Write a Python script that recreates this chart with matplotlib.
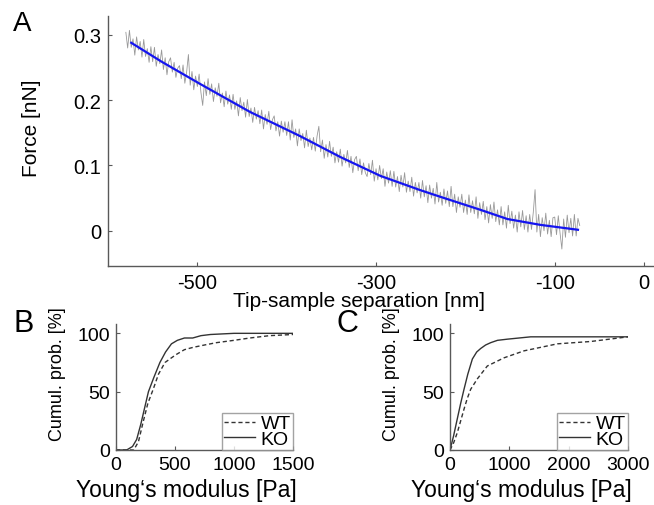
import numpy as np
import matplotlib
matplotlib.use("Agg")
import matplotlib.pyplot as plt

plt.rcParams['font.family'] = ['Liberation Sans', 'DejaVu Sans']
plt.rcParams['axes.unicode_minus'] = False

# ---- panel A: force curve (raw trace, every 2 nm) ----
raw_start, raw_end = -580, -72
raw_force = [
    0.304, 0.280, 0.307, 0.281, 0.294, 0.269, 0.297, 0.277, 0.290, 0.266, 0.293, 0.267, 0.279, 0.258, 0.282,
    0.259, 0.281, 0.252, 0.270, 0.256, 0.277, 0.247, 0.265, 0.239, 0.259, 0.265, 0.243, 0.258, 0.235, 0.249,
    0.253, 0.233, 0.254, 0.226, 0.243, 0.270, 0.223, 0.244, 0.216, 0.237, 0.221, 0.240, 0.212, 0.192, 0.228,
    0.207, 0.233, 0.209, 0.225, 0.198, 0.219, 0.206, 0.226, 0.196, 0.211, 0.190, 0.214, 0.194, 0.208, 0.186,
    0.209, 0.186, 0.199, 0.176, 0.204, 0.184, 0.197, 0.174, 0.201, 0.175, 0.188, 0.166, 0.189, 0.171, 0.184,
    0.164, 0.185, 0.156, 0.178, 0.163, 0.183, 0.155, 0.170, 0.176, 0.153, 0.167, 0.145, 0.168, 0.151, 0.167,
    0.146, 0.167, 0.139, 0.170, 0.143, 0.156, 0.130, 0.156, 0.138, 0.149, 0.127, 0.154, 0.129, 0.142, 0.124,
    0.143, 0.122, 0.145, 0.160, 0.121, 0.139, 0.111, 0.132, 0.113, 0.137, 0.114, 0.128, 0.104, 0.121, 0.105,
    0.125, 0.099, 0.117, 0.104, 0.123, 0.097, 0.114, 0.089, 0.109, 0.114, 0.092, 0.110, 0.086, 0.104, 0.089,
    0.083, 0.103, 0.086, 0.108, 0.076, 0.095, 0.078, 0.100, 0.080, 0.095, 0.068, 0.090, 0.073, 0.092, 0.068,
    0.091, 0.067, 0.083, 0.060, 0.085, 0.067, 0.089, 0.059, 0.076, 0.060, 0.082, 0.053, 0.074, 0.058, 0.074,
    0.050, 0.077, 0.052, 0.069, 0.043, 0.070, 0.050, 0.065, 0.041, 0.074, 0.044, 0.059, 0.039, 0.064, 0.042,
    0.061, 0.037, 0.068, 0.037, 0.056, 0.028, 0.052, 0.036, 0.056, 0.028, 0.047, 0.025, 0.055, 0.028, 0.046,
    0.026, 0.052, 0.019, 0.043, 0.025, 0.045, 0.017, 0.037, 0.012, 0.040, 0.019, 0.044, 0.014, 0.032, 0.009,
    0.037, 0.009, 0.029, 0.004, 0.039, 0.011, 0.030, 0.004, 0.024, -0.002, 0.029, 0.006, 0.031, 0.002, 0.023,
    -0.002, 0.025, 0.002, 0.028, 0.063, -0.002, 0.025, -0.009, 0.020, 0.000, 0.027, -0.005, 0.016, -0.009, 0.020,
    0.021, -0.006, 0.023, -0.004, -0.028, 0.018, -0.010, 0.024, -0.003, 0.019, -0.008, 0.025, -0.008, 0.019, 0.008,
]
fit_sep = [-574, -540, -497, -441, -385, -340, -295, -250, -228, -183, -153, -116, -74]
fit_force = [0.288, 0.259, 0.225, 0.182, 0.145, 0.113, 0.084, 0.062, 0.052, 0.032, 0.018, 0.009, 0.0015]

# ---- panel B / C: cumulative distributions ----
b_ko_x = [0, 90, 140, 175, 210, 240, 275, 320, 372, 420, 470, 520, 580, 650, 720, 800, 1000, 1500]
b_ko_y = [0, 0, 3, 9, 22, 35, 50, 62, 75, 84, 91, 94, 96, 96, 98, 99, 100, 100]
b_wt_x = [0, 150, 190, 230, 270, 315, 360, 415, 470, 513, 580, 654, 750, 851, 1000, 1134, 1300, 1500]
b_wt_y = [0, 0, 7, 24, 40, 52, 65, 75, 79, 82, 86, 88, 90, 92, 94, 96, 98, 99]

c_ko_x = [0, 60, 124, 180, 236, 300, 377, 450, 517, 600, 686, 800, 967, 1360, 2000, 3000]
c_ko_y = [0, 12, 27, 40, 52, 65, 78, 84, 87, 90, 92, 94, 95, 97, 97, 97]
c_wt_x = [0, 60, 124, 180, 236, 290, 348, 461, 629, 910, 1248, 1810, 2371, 3000]
c_wt_y = [0, 6, 15, 25, 35, 44, 52, 61, 72, 79, 85, 91, 93, 97]

spine_col = '0.35'
line_col = '0.2'


def style_axes(ax, fs, pad):
    for s in ['top', 'right']:
        ax.spines[s].set_visible(False)
    for s in ['left', 'bottom']:
        ax.spines[s].set_color(spine_col)
        ax.spines[s].set_linewidth(1.0)
    ax.tick_params(direction='in', length=3, width=0.8, color=spine_col,
                   labelsize=fs, pad=pad)


fig = plt.figure(figsize=(6.54, 5.06), dpi=100)

# panel A
axA = fig.add_axes([108 / 654, 1 - 267 / 506, 545 / 654, 250 / 506])
raw_sep = np.linspace(raw_start, raw_end, len(raw_force))
axA.plot(raw_sep, raw_force, color='0.6', lw=0.6)
axA.plot(fit_sep, fit_force, color='#1414f0', lw=1.6)
axA.set_xlim(-600, 10)
axA.set_ylim(-0.054, 0.329)
axA.set_xticks([-500, -300, -100, 0])
axA.set_yticks([0, 0.1, 0.2, 0.3])
axA.set_yticklabels(['0', '0.1', '0.2', '0.3'])
style_axes(axA, 14.5, 5)
axA.set_xlabel('Tip-sample separation [nm]', fontsize=15)
axA.xaxis.set_label_coords(0.46, -0.102)
axA.set_ylabel('Force [nN]', fontsize=15)
axA.yaxis.set_label_coords(-0.123, 0.556)
fig.text(13 / 654, 1 - 24 / 506, 'A', fontsize=20, va='center')


def cdf_panel(rect, ko_x, ko_y, wt_x, wt_y, xmax, xticks, letter, lx):
    ax = fig.add_axes(rect)
    ax.plot(wt_x, wt_y, color=line_col, lw=1.0, ls=(0, (3, 2)), label='WT')
    ax.plot(ko_x, ko_y, color=line_col, lw=1.0, label='KO')
    ax.set_xlim(0, xmax)
    ax.set_ylim(0, 108)
    ax.set_xticks(xticks)
    ax.set_yticks([0, 50, 100])
    style_axes(ax, 14, 4)
    ax.set_xlabel("Young\u2018s modulus [Pa]", fontsize=16.5)
    ax.xaxis.set_label_coords(0.40, -0.22)
    ax.set_ylabel('Cumul. prob. [%]', fontsize=13)
    ax.yaxis.set_label_coords(-0.28, 0.61)
    leg = ax.legend(loc='lower right', bbox_to_anchor=(1.0, 0.0), fontsize=14,
                    frameon=True, fancybox=False, borderaxespad=0,
                    borderpad=0.1, labelspacing=-0.1, handlelength=1.6,
                    handletextpad=0.3)
    leg.get_frame().set_edgecolor('0.55')
    leg.get_frame().set_linewidth(1.0)
    fig.text(lx / 654, 1 - 324 / 506, letter, fontsize=22, va='center')
    return ax


cdf_panel([116 / 654, 1 - 451 / 506, 177 / 654, 126 / 506],
          b_ko_x, b_ko_y, b_wt_x, b_wt_y, 1500, [0, 500, 1000, 1500], 'B', 13)
cdf_panel([450 / 654, 1 - 451 / 506, 178 / 654, 126 / 506],
          c_ko_x, c_ko_y, c_wt_x, c_wt_y, 3000, [0, 1000, 2000, 3000], 'C', 337)

fig.savefig('out.png', dpi=100)
